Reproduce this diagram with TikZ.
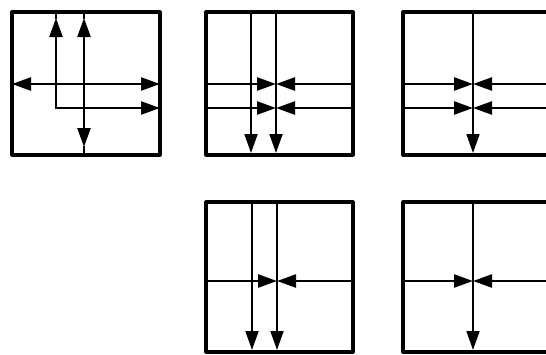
\documentclass[tikz,border=0pt]{standalone}
\usetikzlibrary{arrows.meta}

\begin{document}
\begin{tikzpicture}[x=1pt, y=-1pt,
    panel/.style={draw, line width=3.2pt, line join=round},
    flow/.style={line width=2.4pt, line cap=rect},
    thinflow/.style={line width=1.8pt},
    tip/.style={-{Triangle[length=19pt, width=13pt]}},
    tips/.style={{Triangle[length=19pt, width=13pt]}-{Triangle[length=19pt, width=13pt]}}
]
\clip (0,0) rectangle (546,354);

% Panel A: flows leaving the cell
\coordinate (A-nw) at (12,12);
\coordinate (A-se) at (160,155);
\draw[panel] (A-nw) rectangle (A-se);
\coordinate (A-t1) at (56,12);
\coordinate (A-u1) at (56,18);
\coordinate (A-c1) at (56,108);
\coordinate (A-r1) at (160,108);
\coordinate (A-t2) at (84,12);
\coordinate (A-u2) at (84,18);
\coordinate (A-d2) at (84,147);
\coordinate (A-b2) at (84,155);
\coordinate (A-l) at (12,84);
\coordinate (A-r) at (160,84);
\draw[flow] (A-t1) -- (A-u1);
\draw[flow, tip] (A-c1) -- (A-u1);
\draw[flow, tip] (A-c1) -- (A-r1);
\draw[flow] (A-t2) -- (A-u2);
\draw[flow, tips] (A-u2) -- (A-d2);
\draw[flow] (A-d2) -- (A-b2);
\draw[flow, tips] (A-l) -- (A-r);

% Panel B: two columns, two rows
\coordinate (B-nw) at (206,12);
\coordinate (B-se) at (353,155);
\draw[panel] (B-nw) rectangle (B-se);
\coordinate (B-t1) at (251,12);
\coordinate (B-d1) at (251,153);
\coordinate (B-t2) at (276,12);
\coordinate (B-d2) at (276,153);
\coordinate (B-l1) at (206,84);
\coordinate (B-m1) at (276,84);
\coordinate (B-r1) at (353,84);
\coordinate (B-l2) at (206,108);
\coordinate (B-m2) at (276,108);
\coordinate (B-r2) at (353,108);
\draw[thinflow, tip] (B-t1) -- (B-d1);
\draw[thinflow, tip] (B-t2) -- (B-d2);
\draw[flow, tip] (B-l1) -- (B-m1);
\draw[flow, tip] (B-r1) -- (B-m1);
\draw[flow, tip] (B-l2) -- (B-m2);
\draw[flow, tip] (B-r2) -- (B-m2);

% Panel C: one column, two rows
\coordinate (C-nw) at (403,12);
\coordinate (C-se) at (550,155);
\draw[panel] (C-nw) rectangle (C-se);
\coordinate (C-t) at (473,12);
\coordinate (C-d) at (473,153);
\coordinate (C-l1) at (403,84);
\coordinate (C-m1) at (473,84);
\coordinate (C-r1) at (550,84);
\coordinate (C-l2) at (403,108);
\coordinate (C-m2) at (473,108);
\coordinate (C-r2) at (550,108);
\draw[thinflow, tip] (C-t) -- (C-d);
\draw[flow, tip] (C-l1) -- (C-m1);
\draw[flow, tip] (C-r1) -- (C-m1);
\draw[flow, tip] (C-l2) -- (C-m2);
\draw[flow, tip] (C-r2) -- (C-m2);

% Panel D: two columns, one row
\coordinate (D-nw) at (206,202);
\coordinate (D-se) at (353,352);
\draw[panel] (D-nw) rectangle (D-se);
\coordinate (D-t1) at (252,202);
\coordinate (D-d1) at (252,350);
\coordinate (D-t2) at (277,202);
\coordinate (D-d2) at (277,350);
\coordinate (D-l) at (206,281);
\coordinate (D-m) at (277,281);
\coordinate (D-r) at (353,281);
\draw[thinflow, tip] (D-t1) -- (D-d1);
\draw[thinflow, tip] (D-t2) -- (D-d2);
\draw[flow, tip] (D-l) -- (D-m);
\draw[flow, tip] (D-r) -- (D-m);

% Panel E: one column, one row
\coordinate (E-nw) at (403,202);
\coordinate (E-se) at (550,352);
\draw[panel] (E-nw) rectangle (E-se);
\coordinate (E-t) at (473,202);
\coordinate (E-d) at (473,350);
\coordinate (E-l) at (403,281);
\coordinate (E-m) at (473,281);
\coordinate (E-r) at (550,281);
\draw[thinflow, tip] (E-t) -- (E-d);
\draw[flow, tip] (E-l) -- (E-m);
\draw[flow, tip] (E-r) -- (E-m);
\end{tikzpicture}
\end{document}
